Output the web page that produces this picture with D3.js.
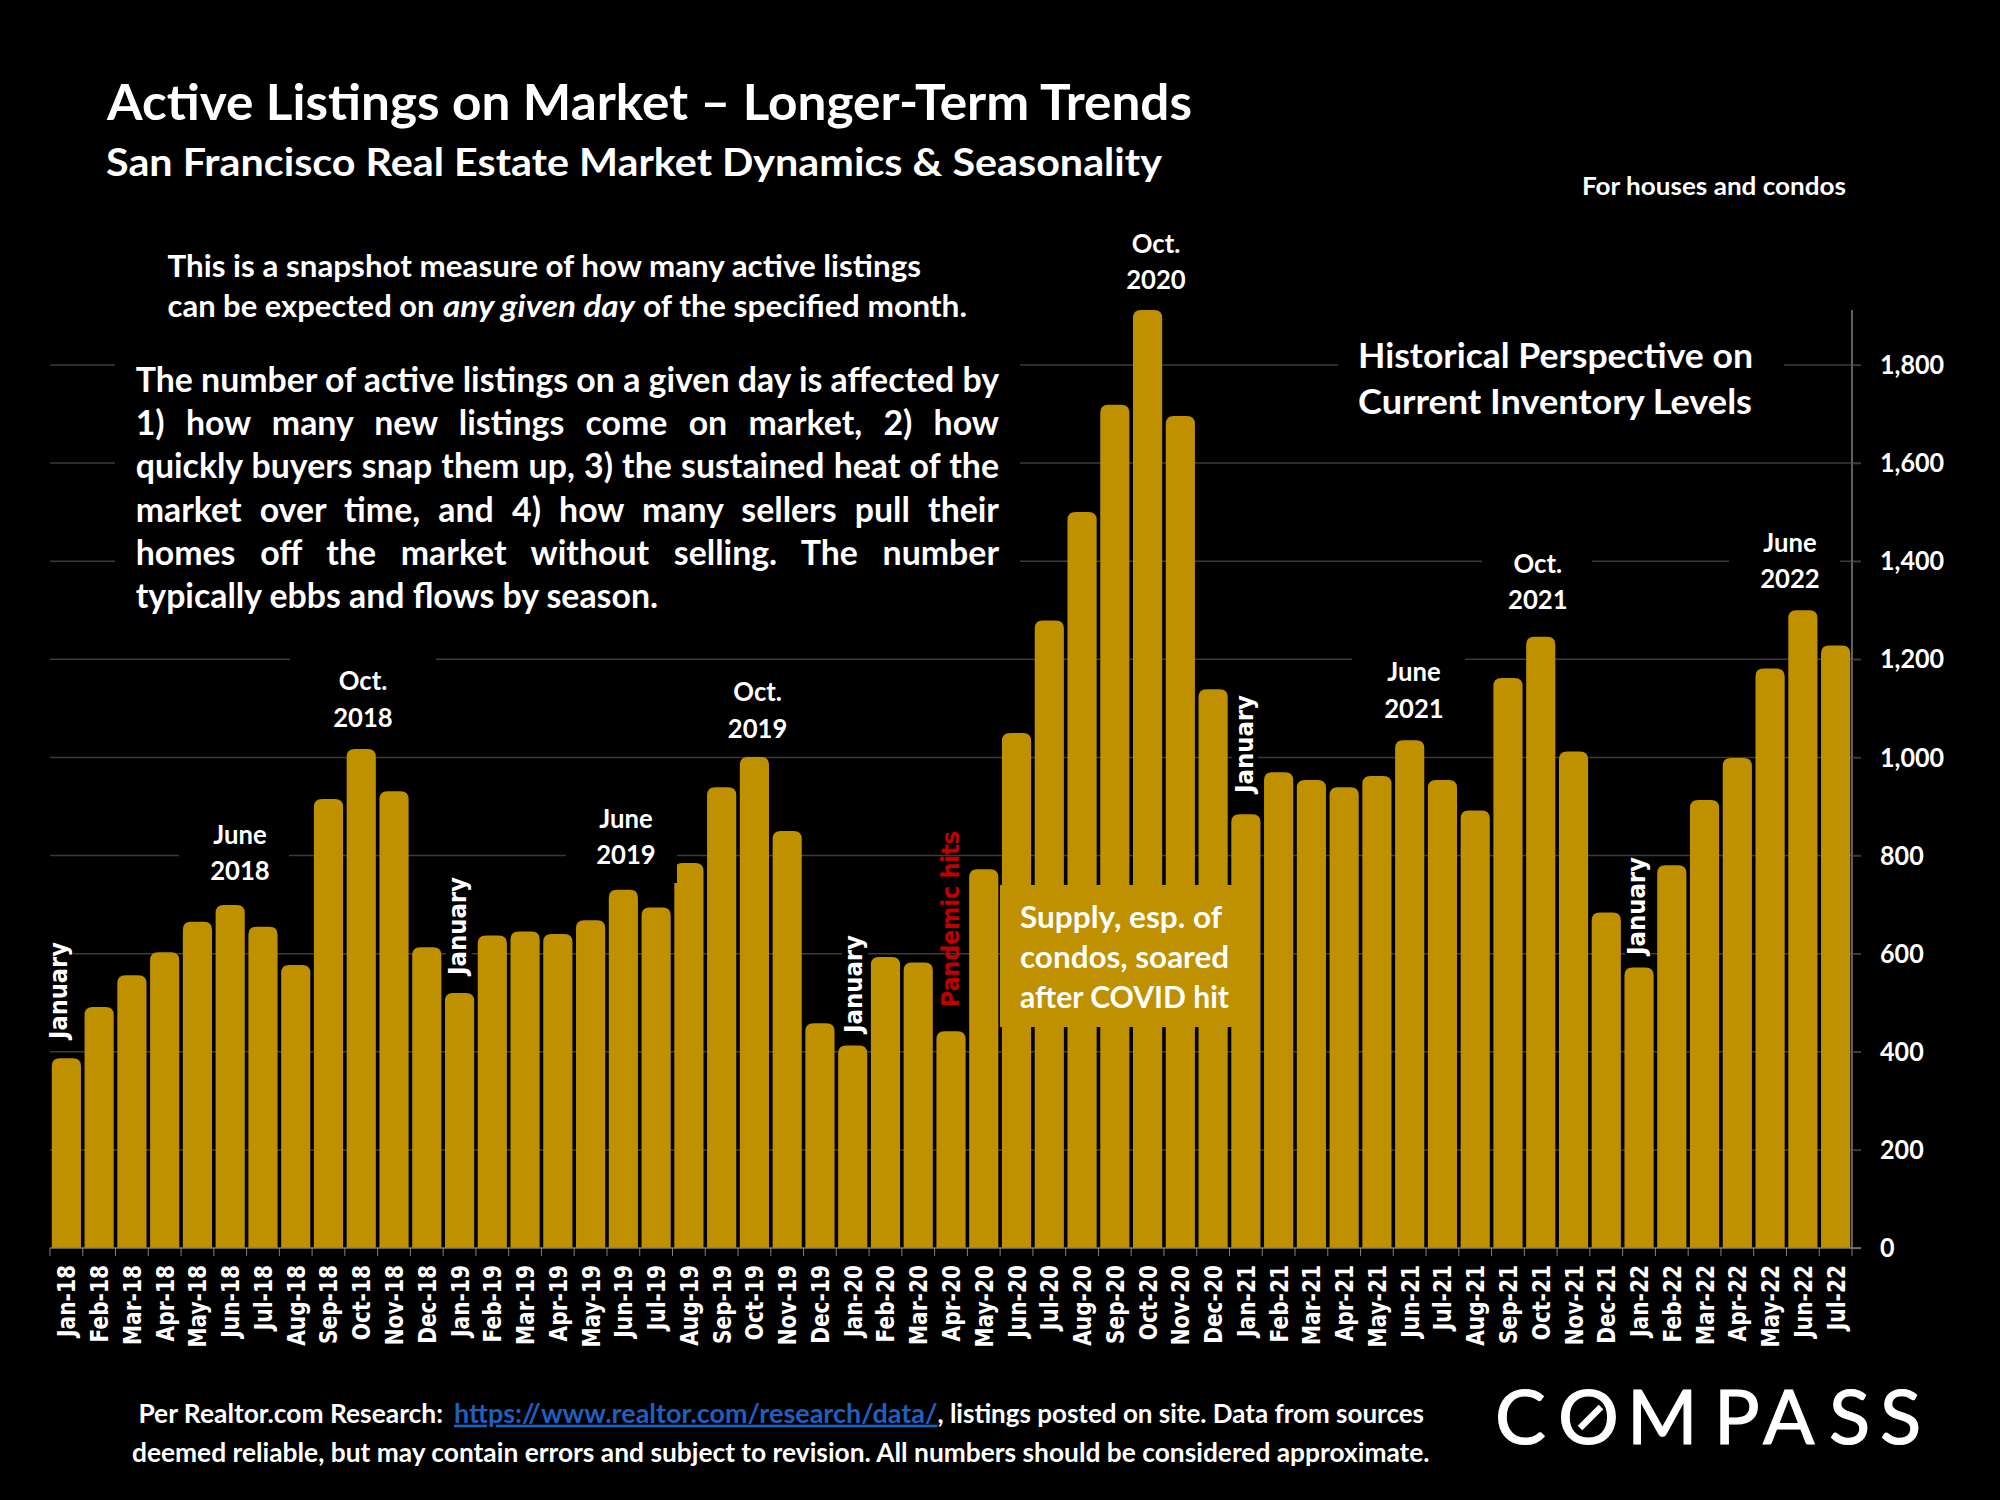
<!DOCTYPE html>
<html>
<head>
<meta charset="utf-8">
<script src="https://cdn.jsdelivr.net/npm/d3@7"></script>
<style>
  html, body { margin: 0; background: #000; }
  svg { display: block; }
  text { font-family: Lato, sans-serif; font-weight: 700; fill: #fff; }
  .verd { font-family: "DejaVu Sans", sans-serif; }
</style>
</head>
<body>
<svg id="chart" width="2000" height="1500"></svg>
<script>
var months = ["Jan-18","Feb-18","Mar-18","Apr-18","May-18","Jun-18","Jul-18","Aug-18","Sep-18","Oct-18","Nov-18","Dec-18",
  "Jan-19","Feb-19","Mar-19","Apr-19","May-19","Jun-19","Jul-19","Aug-19","Sep-19","Oct-19","Nov-19","Dec-19",
  "Jan-20","Feb-20","Mar-20","Apr-20","May-20","Jun-20","Jul-20","Aug-20","Sep-20","Oct-20","Nov-20","Dec-20",
  "Jan-21","Feb-21","Mar-21","Apr-21","May-21","Jun-21","Jul-21","Aug-21","Sep-21","Oct-21","Nov-21","Dec-21",
  "Jan-22","Feb-22","Mar-22","Apr-22","May-22","Jun-22","Jul-22"];
var listings = [387,491,556,603,665,699,655,577,915,1017,931,613,
  520,637,645,640,668,730,694,785,939,1001,850,458,
  413,593,582,442,772,1050,1279,1500,1719,1912,1696,1139,
  884,970,954,939,962,1035,954,892,1162,1246,1012,684,
  572,780,913,999,1181,1300,1228];
var yTicks = [0,200,400,600,800,1000,1200,1400,1600,1800];

var mainLines = [
  "The number of active listings on a given day is affected by",
  "1) how many new listings come on market, 2) how",
  "quickly buyers snap them up, 3) the sustained heat of the",
  "market over time, and 4) how many sellers pull their",
  "homes off the market without selling. The number",
  "typically ebbs and flows by season."
];
var supplyLines = ["Supply, esp. of", "condos, soared", "after COVID hit"];
var logoLetters = "COMPASS";

var GOLD = "#BF9000", GRID = "#3b3b3b", AXIS = "#808080";

var svg = d3.select("#chart");

var x = d3.scaleBand().domain(months).range([50, 1852]).paddingInner(0.11).paddingOuter(0.055);
var y = d3.scaleLinear().domain([0, 1912]).range([1248, 310]);

// squeeze Lato down to the narrower look of the original font
function squeeze(sel, k) {
  sel.each(function() {
    d3.select(this).attr("textLength", this.getComputedTextLength() * k).attr("lengthAdjust", "spacingAndGlyphs");
  });
  return sel;
}

function label(txt, px, py, size, width, anchor) {
  var t = svg.append("text").attr("x", px).attr("y", py).attr("font-size", size).text(txt);
  if (anchor) t.attr("text-anchor", anchor);
  if (width) t.attr("textLength", width).attr("lengthAdjust", "spacingAndGlyphs");
  return t;
}

// gridlines
svg.append("g").selectAll("line").data(yTicks.slice(1)).enter().append("line")
  .attr("x1", 50).attr("x2", 1861)
  .attr("y1", function(d) { return y(d); }).attr("y2", function(d) { return y(d); })
  .attr("stroke", GRID).attr("stroke-width", 1.5);

// bars, only the top corners are round
var r = 8;
svg.append("g").selectAll("path").data(listings).enter().append("path")
  .attr("fill", GOLD)
  .attr("d", function(d, i) {
    var x0 = x(months[i]), w = x.bandwidth(), top = y(d);
    return "M" + x0 + "," + y(0) + "V" + (top + r) + "Q" + x0 + "," + top + " " + (x0 + r) + "," + top +
      "H" + (x0 + w - r) + "Q" + (x0 + w) + "," + top + " " + (x0 + w) + "," + (top + r) + "V" + y(0) + "Z";
  });

// right axis
var yAxis = svg.append("g").attr("transform", "translate(1852,0)")
  .call(d3.axisRight(y).tickValues(yTicks).tickSize(9).tickPadding(19).tickFormat(d3.format(",")));
yAxis.selectAll("path").attr("stroke", AXIS).attr("stroke-width", 1.5).attr("d", "M0," + y(0) + "V" + y(1912));
yAxis.selectAll("line").attr("stroke", GRID).attr("stroke-width", 1.5);
yAxis.attr("font-family", null).attr("font-size", null);
yAxis.selectAll("text").attr("font-size", 27).attr("fill", null);
squeeze(yAxis.selectAll("text"), 0.93);

// bottom axis, labels from the axis and ticks on band edges
var xAxis = svg.append("g").attr("transform", "translate(0," + y(0) + ")")
  .call(d3.axisBottom(x).tickSize(0));
xAxis.attr("font-family", null).attr("font-size", null);
xAxis.select("path").remove();
xAxis.selectAll("text")
  .attr("class", "verd").attr("fill", null).attr("font-size", 24)
  .attr("text-anchor", "end").attr("dy", null)
  .attr("transform", "translate(1,17) rotate(-90)")
  .attr("x", 0).attr("y", 0).attr("dominant-baseline", "central");
squeeze(xAxis.selectAll("text"), 0.84);

var edges = months.map(function(m) { return x(m) - x.step() * x.paddingInner() / 2; }).concat([1852]);
svg.append("g").selectAll("line").data(edges).enter().append("line")
  .attr("x1", function(d) { return d; }).attr("x2", function(d) { return d; })
  .attr("y1", y(0)).attr("y2", y(0) + 8)
  .attr("stroke", AXIS).attr("stroke-width", 1);
svg.append("line").attr("x1", 50).attr("x2", 1861).attr("y1", y(0)).attr("y2", y(0))
  .attr("stroke", AXIS).attr("stroke-width", 1.5);

// black boxes behind the text hide the gridlines
var masks = [
  [115, 345, 905, 285],
  [1338, 335, 446, 95],
  [290, 650, 146, 85],
  [179, 808, 110, 82],
  [566, 795, 111, 88],
  [1352, 650, 113, 75],
  [1482, 545, 110, 75],
  [1729, 520, 111, 75],
  [47, 942, 26, 97],
  [446, 876, 26, 99],
  [842, 935, 26, 98],
  [1232, 695, 26, 98],
  [1625, 857, 26, 98]
];
svg.append("g").selectAll("rect").data(masks).enter().append("rect")
  .attr("x", function(d) { return d[0]; }).attr("y", function(d) { return d[1]; })
  .attr("width", function(d) { return d[2]; }).attr("height", function(d) { return d[3]; })
  .attr("fill", "#000");

// supply box sits on top of the bars
svg.append("rect").attr("x", 1000).attr("y", 885).attr("width", 241).attr("height", 142).attr("fill", GOLD);

// titles
label("Active Listings on Market – Longer-Term Trends", 107, 120, 49, 1085);
label("San Francisco Real Estate Market Dynamics & Seasonality", 106, 176, 39, 1056);
label("For houses and condos", 1582, 195, 25, 264);

// intro note
label("This is a snapshot measure of how many active listings", 167.5, 277, 30, 753.5);
label("can be expected on", 167.5, 317, 30, 267);
label("any given day", 443, 317, 30, 192).attr("font-style", "italic");
label("of the specified month.", 643, 317, 30, 324);

// justified paragraph, word-spacing fills each line out to the right edge
var paraSize = 34, paraWidth = 863.3, paraK = 1;
mainLines.forEach(function(line, i) {
  var g = svg.append("g");
  var t = g.append("text").attr("font-size", paraSize).text(line);
  if (i == 0) paraK = paraWidth / t.node().getComputedTextLength();
  g.attr("transform", "translate(135.7," + (391.7 + i * 43.3) + ") scale(" + paraK + ",1)");
  if (i < mainLines.length - 1) {
    var gaps = line.split(" ").length - 1;
    t.attr("word-spacing", (paraWidth / paraK - t.node().getComputedTextLength()) / gaps);
  }
});

label("Historical Perspective on", 1358, 368, 35, 395);
label("Current Inventory Levels", 1358, 414, 35, 394);

supplyLines.forEach(function(line, i) {
  label(line, 1020, 927.7 + i * 40, 31, [202, 209, 209][i]);
});

// month callouts
[["June", "2018", 240, 843.7, 880], ["Oct.", "2018", 363, 690, 727], ["June", "2019", 626, 827.7, 864],
 ["Oct.", "2019", 757.6, 701, 738], ["Oct.", "2020", 1156, 252.7, 289], ["June", "2021", 1414, 681, 717.7],
 ["Oct.", "2021", 1537.8, 572.7, 609], ["June", "2022", 1790, 551.7, 588]].forEach(function(d) {
  squeeze(label(d[0], d[2], d[3], 27, null, "middle"), 0.95);
  squeeze(label(d[1], d[2], d[4], 27, null, "middle"), 0.95);
});

// rotated labels
function rotated(txt, cx, bottom, length, fill) {
  svg.append("text").attr("class", "verd")
    .attr("transform", "translate(" + cx + "," + bottom + ") rotate(-90)")
    .attr("font-size", 25).attr("dominant-baseline", "central")
    .attr("textLength", length).attr("lengthAdjust", "spacingAndGlyphs")
    .style("fill", fill || "#fff").text(txt);
}
rotated("January", 58.5, 1039, 97);
rotated("January", 457.5, 975, 98);
rotated("January", 853.5, 1033, 98);
rotated("January", 1244, 793, 98);
rotated("January", 1636.5, 955, 98);
rotated("Pandemic hits", 950.5, 1007, 176, "#C00000");

// footer
label("Per Realtor.com Research:", 138.4, 1422.7, 26, 304.6);
label("https://www.realtor.com/research/data/", 454, 1422.7, 26, 483.5)
  .attr("text-decoration", "underline").style("fill", "#1F5FBF");
label(", listings posted on site. Data from sources", 937.5, 1422.7, 26, 486.5);
label("deemed reliable, but may contain errors and subject to revision. All numbers should be considered approximate.", 132, 1462, 26, 1297.6);

// logo
svg.append("text")
  .attr("x", [1495, 1558, 1627, 1714, 1763, 1829, 1880].join(" "))
  .attr("y", 1444).attr("font-size", 76).style("font-weight", 400)
  .attr("stroke", "#fff").attr("stroke-width", 1.2)
  .text(logoLetters);
svg.append("line").attr("x1", 1580).attr("y1", 1428).attr("x2", 1601).attr("y2", 1407)
  .attr("stroke", "#fff").attr("stroke-width", 6.5);
</script>
</body>
</html>
